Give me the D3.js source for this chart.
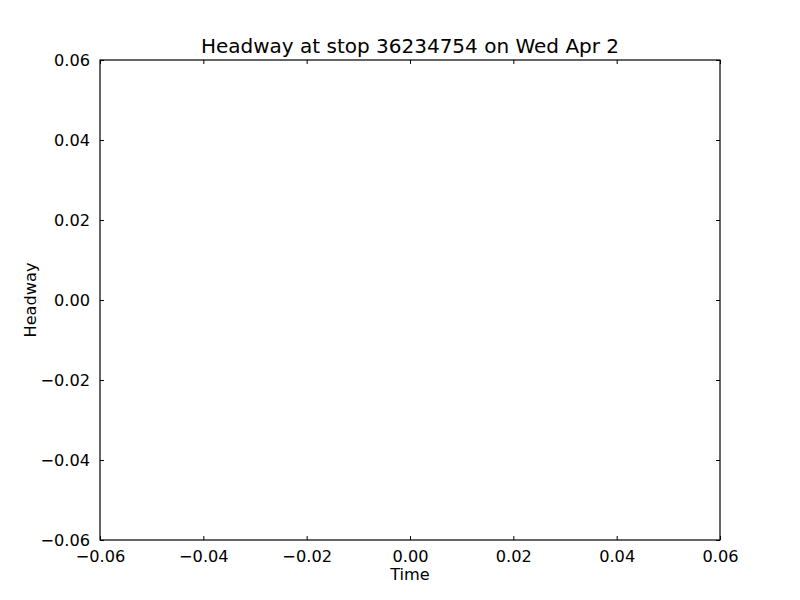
<!DOCTYPE html>
<html><head><meta charset="utf-8">
<script src="https://cdn.jsdelivr.net/npm/d3@7"></script>
<style>body{margin:0;background:#fff}text{font-family:"DejaVu Sans",sans-serif;fill:#000}</style>
</head><body>
<script>
const title = "Headway at stop 36234754 on Wed Apr 2";
const xLabel = "Time";
const yLabel = "Headway";
const xDomain = [-0.06, 0.06];
const yDomain = [-0.06, 0.06];
const xTicks = [-0.06, -0.04, -0.02, 0.00, 0.02, 0.04, 0.06];
const yTicks = [-0.06, -0.04, -0.02, 0.00, 0.02, 0.04, 0.06];
const data = [];

const W = 800, H = 600;
const m = {l: 100, r: 80, t: 60, b: 60};
const svg = d3.select("body").append("svg").attr("width", W).attr("height", H);
const x = d3.scaleLinear().domain(xDomain).range([m.l, W - m.r]);
const y = d3.scaleLinear().domain(yDomain).range([H - m.b, m.t]);
const fmt = v => (v < 0 ? "\u2212" : "") + Math.abs(v).toFixed(2);

const tl = 4;
function style(g) { g.select(".domain").remove(); g.selectAll("line").attr("stroke", "#000"); g.selectAll("text").style("font-size", "16.2px").style("font-family", "DejaVu Sans"); }

svg.append("g").attr("transform", `translate(0,${H - m.b})`)
  .call(d3.axisBottom(x).tickValues(xTicks).tickFormat(fmt).tickSizeInner(-tl).tickSizeOuter(0).tickPadding(10)).call(style);
svg.append("g").attr("transform", `translate(0,${m.t})`)
  .call(d3.axisTop(x).tickValues(xTicks).tickFormat("").tickSizeInner(-tl).tickSizeOuter(0)).call(style);
svg.append("g").attr("transform", `translate(${m.l},0)`)
  .call(d3.axisLeft(y).tickValues(yTicks).tickFormat(fmt).tickSizeInner(-tl).tickSizeOuter(0).tickPadding(10)).call(style);
svg.append("g").attr("transform", `translate(${W - m.r},0)`)
  .call(d3.axisRight(y).tickValues(yTicks).tickFormat("").tickSizeInner(-tl).tickSizeOuter(0)).call(style);

svg.append("g").selectAll("circle").data(data).join("circle")
  .attr("cx", d => x(d[0])).attr("cy", d => y(d[1])).attr("r", 3).attr("fill", "#00f");

svg.append("rect").attr("x", m.l).attr("y", m.t).attr("width", W - m.l - m.r).attr("height", H - m.t - m.b)
  .attr("fill", "none").attr("stroke", "#000").attr("stroke-width", 1.2);

svg.append("text").attr("x", (m.l + W - m.r) / 2).attr("y", 53).attr("text-anchor", "middle").style("font-size", "20px").text(title);
svg.append("text").attr("x", (m.l + W - m.r) / 2).attr("y", 580).attr("text-anchor", "middle").style("font-size", "16.2px").text(xLabel);
svg.append("text").attr("transform", `translate(36,${(m.t + H - m.b) / 2}) rotate(-90)`).attr("text-anchor", "middle").style("font-size", "16.2px").text(yLabel);
</script>
</body></html>
